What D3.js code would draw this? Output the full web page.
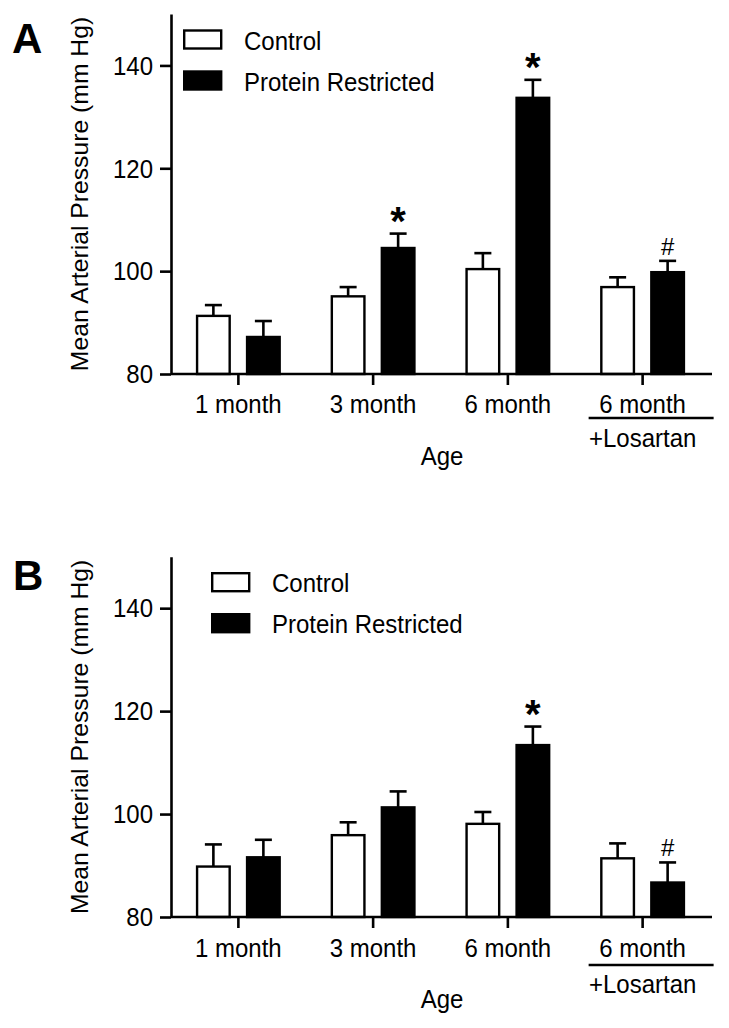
<!DOCTYPE html>
<html><head><meta charset="utf-8">
<script src="https://cdn.jsdelivr.net/npm/d3@7"></script>
<style>body{margin:0;background:#fff}svg{display:block}</style>
</head><body><svg id="c" width="729" height="1028"></svg>
<script>
// ---- data ----
const categories = ["1 month","3 month","6 month","6 month +Losartan"];
const tickLabels = ["1 month","3 month","6 month","6 month"];
const subLabels = ["","","","+Losartan"];
const series = ["Control","Protein Restricted"];
const yTicks = [80,100,120,140];
const yDomain = [80,150];
const panelLetters = ["A","B"];
const xTitle = "Age";
const yTitle = "Mean Arterial Pressure (mm Hg)";

const controlA = [91.3,95.1,100.4,96.9];
const controlSemA = [2.1,1.8,3.1,1.9];
const restrictedA = [87.2,104.5,133.7,99.8];
const restrictedSemA = [3.1,2.8,3.5,2.2];
const marksA = ["","*","*","#"];

const controlB = [89.8,95.9,98.1,91.4];
const controlSemB = [4.3,2.5,2.3,2.9];
const restrictedB = [91.6,101.3,113.4,86.7];
const restrictedSemB = [3.4,3.1,3.6,3.9];
const marksB = ["","","*","#"];

// ---- drawing ----
const FONT = "'Liberation Sans', Arial, Helvetica, sans-serif";
const svg = d3.select("#c");
svg.append("rect").attr("width",729).attr("height",1028).attr("fill","#fff");

const x0 = d3.scaleBand().domain(categories).range([171, 710]).padding(0);
const x1 = d3.scaleBand().domain(series).range([-42.5, 42.5]).paddingInner(0.3).paddingOuter(0);
const fills = {"Control":"#fff","Protein Restricted":"#000"};
const SY = 1.06; // slight vertical stretch of lettering, as in the reference

function panel(cfg){
  const g = svg.append("g");
  const y = d3.scaleLinear().domain(yDomain).range([cfg.bottom, cfg.top]);
  const rows = categories.map((c,i)=>({
    cat:c, i,
    vals:[
      {s:"Control", v:cfg.control[i], e:cfg.controlSem[i], m:""},
      {s:"Protein Restricted", v:cfg.restricted[i], e:cfg.restrictedSem[i], m:cfg.marks[i]}
    ]}));

  const grp = g.selectAll("g.grp").data(rows).join("g")
    .attr("transform", d=>`translate(${x0(d.cat)+x0.bandwidth()/2},0)`);
  const item = grp.selectAll("g.it").data(d=>d.vals).join("g");
  const cx = d=>x1(d.s)+x1.bandwidth()/2;
  item.append("line")
    .attr("x1", cx).attr("x2", cx)
    .attr("y1", d=>y(d.v)).attr("y2", d=>y(d.v+d.e))
    .attr("stroke","#000").attr("stroke-width",2.6);
  item.append("line")
    .attr("x1", d=>cx(d)-8.5).attr("x2", d=>cx(d)+8.5)
    .attr("y1", d=>y(d.v+d.e)).attr("y2", d=>y(d.v+d.e))
    .attr("stroke","#000").attr("stroke-width",2.6);
  item.append("rect")
    .attr("x", d=>x1(d.s)+1.2).attr("width", x1.bandwidth()-2.4)
    .attr("y", d=>y(d.v)).attr("height", d=>y(yDomain[0])-y(d.v))
    .attr("fill", d=>fills[d.s]).attr("stroke","#000").attr("stroke-width",2.4);
  item.filter(d=>d.m==="*").append("text")
    .attr("x", cx).attr("y", d=>y(d.v+d.e)+1)
    .attr("text-anchor","middle").attr("font-family",FONT).attr("font-weight","bold")
    .attr("font-size",40).text(d=>d.m);
  item.filter(d=>d.m==="#").append("text")
    .attr("x", cx).attr("y", d=>y(d.v+d.e)-6)
    .attr("text-anchor","middle").attr("font-family",FONT)
    .attr("font-size",24).text(d=>d.m);

  // y axis
  const ya = g.append("g").attr("transform","translate(171,0)")
    .call(d3.axisLeft(y).tickValues(yTicks).tickSize(11).tickSizeOuter(0).tickPadding(7));
  ya.selectAll("path,line").attr("stroke","#000").attr("stroke-width",2.6);
  ya.selectAll("text").attr("font-family",FONT).attr("font-size",24).attr("fill","#000")
    .attr("dy",null).attr("y",0)
    .attr("transform",`translate(0,8.8) scale(1,${SY})`);

  // x axis
  const xa = g.append("g").attr("transform",`translate(0,${cfg.bottom})`)
    .call(d3.axisBottom(x0).tickSize(11).tickSizeOuter(0).tickFormat((d,i)=>tickLabels[i]));
  xa.select("path.domain").remove();
  xa.append("line").attr("x1",171).attr("x2",712).attr("y1",0).attr("y2",0)
    .attr("stroke","#000").attr("stroke-width",2.6);
  xa.selectAll(".tick line").attr("stroke","#000").attr("stroke-width",2.6);
  xa.selectAll(".tick text").attr("y",0).attr("dy",null)
    .attr("transform",`translate(0,${cfg.lab}) scale(1,${SY})`)
    .attr("font-family",FONT).attr("font-size",24).attr("fill","#000");
  xa.selectAll(".tick").filter((d,i)=>subLabels[i]!=="").each(function(d){
    const t = d3.select(this);
    const k = categories.indexOf(d);
    t.append("line").attr("x1",-54).attr("x2",71).attr("y1",cfg.ul).attr("y2",cfg.ul)
      .attr("stroke","#000").attr("stroke-width",2.6);
    t.append("text").attr("transform",`translate(0,${cfg.sub}) scale(1,${SY})`).attr("text-anchor","middle")
      .attr("font-family",FONT).attr("font-size",24).attr("fill","#000").text(subLabels[k]);
  });

  // axis titles
  g.append("text").attr("transform",`translate(442,${cfg.bottom+91}) scale(1,${SY})`).attr("text-anchor","middle")
    .attr("font-family",FONT).attr("font-size",24).text(xTitle);
  g.append("text").attr("transform",`translate(88,${(cfg.top+cfg.bottom)/2}) rotate(-90) scale(1.03,1)`)
    .attr("text-anchor","middle").attr("font-family",FONT).attr("font-size",24).text(yTitle);

  // panel letter
  g.append("text").attr("x",cfg.letterX).attr("y",cfg.letterY)
    .attr("font-family",FONT).attr("font-weight","bold").attr("font-size",42).text(cfg.letter);

  // legend
  const lg = g.append("g").attr("transform",`translate(${cfg.legendX},${cfg.top})`);
  series.forEach((s,i)=>{
    lg.append("rect").attr("x",1.2).attr("y",16.5+i*41).attr("width",37).attr("height",18)
      .attr("fill",fills[s]).attr("stroke","#000").attr("stroke-width",2.4);
    lg.append("text").attr("transform",`translate(61,${35.5+i*41}) scale(1,${SY})`)
      .attr("font-family",FONT).attr("font-size",24).text(s);
  });
}

panel({top:14, bottom:374, control:controlA, controlSem:controlSemA,
  restricted:restrictedA, restrictedSem:restrictedSemA, marks:marksA,
  letter:panelLetters[0], letterX:12, letterY:52.7, legendX:183, lab:39, ul:44, sub:73});
panel({top:556.7, bottom:917, control:controlB, controlSem:controlSemB,
  restricted:restrictedB, restrictedSem:restrictedSemB, marks:marksB,
  letter:panelLetters[1], letterX:13, letterY:590, legendX:211, lab:39.5, ul:48, sub:76});
</script>
</body></html>
